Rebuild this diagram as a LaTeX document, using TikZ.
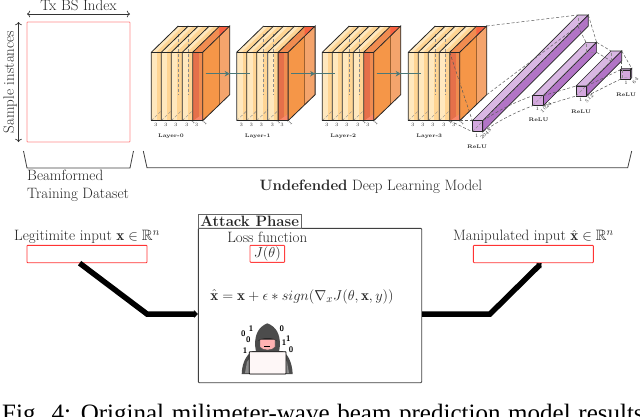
\documentclass[tikz,border=0pt]{standalone}
\usepackage{amsmath}
\usepackage{amssymb}
\usepackage{xcolor}
\usepackage{fontspec}
\newfontfamily\captionfont{Liberation Serif}
\usetikzlibrary{arrows.meta}
\definecolor{slabA}{HTML}{FFE8BE}
\definecolor{slabB}{HTML}{FFD594}
\definecolor{lastA}{HTML}{E5704A}
\definecolor{lastB}{HTML}{F08C50}
\definecolor{sideA}{HTML}{F59648}
\definecolor{sideB}{HTML}{F4A46C}
\definecolor{barA}{HTML}{D4A8DE}
\definecolor{barB}{HTML}{B274C6}
\definecolor{barC}{HTML}{D9B7E3}
\definecolor{arrowteal}{HTML}{4A7878}
\tikzset{
	txt/.style={text=black!85, inner sep=0pt, font=\fontsize{15}{18}\selectfont},
	lyrtxt/.style={text=black!85, inner sep=0pt, font=\fontsize{5.2}{6}\selectfont\bfseries},
	dimtxt/.style={text=black!80, inner sep=0pt, font=\fontsize{5}{6}\selectfont},
	bittxt/.style={text=black, inner sep=0pt, font=\fontsize{8}{9}\selectfont\sffamily\bfseries},
	redbox/.style={draw=red!75, line width=0.9pt, rounded corners=0.8pt, inner sep=0pt},
	edge/.style={draw=black!85, line width=0.8pt},
	hidden/.style={draw=black!45, line width=0.4pt, densely dashed},
	link/.style={draw=black!65, line width=0.5pt, densely dashed},
	layerlink/.style={draw=arrowteal, line width=1.2pt},
	bracket/.style={draw=black!75, line width=0.8pt},
	flow/.style={draw=black, line width=5.5pt}
}
\begin{document}
\begin{tikzpicture}[x=1pt, y=-1pt]
	\clip (0,0) rectangle (640,416);
	% training data
	\node[redbox, draw=red!45, minimum width=103pt, minimum height=120pt] (databox) at (78.5,82) {};
	\node[txt] (txindex) at (78.5,5.8) {Tx BS Index};
	\node[txt, rotate=90] (samples) at (10,82) {Sample instances};
	\coordinate (dataleft) at (27,14);
	\coordinate (dataright) at (130,14);
	\coordinate (datatop) at (18.5,22);
	\coordinate (databot) at (18.5,142);
	\draw[black!80, line width=0.7pt, <->] (dataleft) -- (dataright);
	\draw[black!80, line width=0.7pt, <->] (datatop) -- (databot);
	\draw[bracket] (23.5,151) -- (27,168) -- (130,168) -- (133.5,151);
	\node[txt, anchor=base west] (beam) at (27,180.5) {Beamformed};
	\node[txt, anchor=base west] (train) at (27,198) {Training Dataset};
	% conv layers
	\foreach \n/\X in {0/151.3,1/236.7,2/322.3,3/408.3} {
		\foreach \s in {0,10,20,31} {
			\fill[slabA] (\X+\s,52.3) -- (\X+\s+27,26) -- (\X+\s+37.4,26) -- (\X+\s+10.4,52.3) -- cycle;
			\fill[slabB] (\X+\s+5,52.3) -- (\X+\s+32,26) -- (\X+\s+37.4,26) -- (\X+\s+10.4,52.3) -- cycle;
			\fill[slabA] (\X+\s,52.3) rectangle (\X+\s+10.4,120.7);
			\fill[slabB] (\X+\s+6,52.3) rectangle (\X+\s+10.4,120.7);
			\draw[hidden] (\X+\s,120.7) -- (\X+\s+26,95);
			\node[dimtxt] at (\X+\s+4.5,125) {3};
		}
		\draw[hidden] (\X+26.4,34) -- (\X+26.4,95);
		\draw[hidden] (\X+36.4,34) -- (\X+36.4,95);
		% last slab
		\fill[sideA] (\X+51.4,52.3) -- (\X+78.4,26) -- (\X+78.4,94.7) -- (\X+51.4,120.7) -- cycle;
		\fill[sideB] (\X+68,36) -- (\X+78.4,26) -- (\X+78.4,94.7) -- (\X+68,104.6) -- cycle;
		\fill[lastB] (\X+41.4,52.3) -- (\X+68.4,26) -- (\X+78.4,26) -- (\X+51.4,52.3) -- cycle;
		\fill[red!40!sideB] (\X+68,26) -- (\X+78.4,26) -- (\X+68,36) -- cycle;
		\fill[lastB] (\X+41.4,52.3) rectangle (\X+51.4,120.7);
		\fill[lastA] (\X+41.4,52.3) rectangle (\X+47.5,120.7);
		\fill[red!35!sideB!80!white] (\X+42,120.7) -- (\X+51.4,120.7) -- (\X+51.4,114) -- cycle;
		\draw[black!35!sideA, line width=0.5pt] (\X+68,36) -- (\X+68,104.6);
		% edges
		\foreach \s in {0,10,20,31,41.4} {
			\draw[edge] (\X+\s,120.7) -- (\X+\s,52.3) -- (\X+\s+27,26);
		}
		\draw[edge] (\X,52.3) -- (\X+51.4,52.3);
		\draw[edge] (\X,120.7) -- (\X+51.4,120.7);
		\draw[edge] (\X+27,26) -- (\X+78.4,26);
		\draw[edge] (\X+51.4,52.3) -- (\X+78.4,26) -- (\X+78.4,94.7) -- (\X+51.4,120.7) -- cycle;
		\node[dimtxt] at (\X+45.4,125) {3};
		\node[dimtxt, rotate=45] at (\X+41.6,122.5) {1};
		\node[dimtxt, rotate=45] at (\X+53.7,123.5) {1};
		\coordinate (out\n) at (\X+54.4,73.7);
		\coordinate (tip\n) at (\X+78.4,73.7);
		\coordinate (backtop\n) at (\X+78.4,26);
		\coordinate (backbot\n) at (\X+78.4,94.7);
		\coordinate (frontleft\n) at (\X+41.4,52.3);
		\coordinate (botleft\n) at (\X+41.4,120.7);
		\coordinate (botright\n) at (\X+51.4,120.7);
	}
	\node[lyrtxt] (layer0) at (171,136.5) {Layer-0};
	\node[lyrtxt] (layer1) at (257.7,136.5) {Layer-1};
	\node[lyrtxt] (layer2) at (343.3,136.5) {Layer-2};
	\node[lyrtxt] (layer3) at (429.3,136.5) {Layer-3};
	\coordinate (in1) at (250,73.7);
	\coordinate (in2) at (335.4,73.7);
	\coordinate (in3) at (421.4,73.7);
	\foreach \a/\b in {0/1,1/2,2/3} {
		\draw[layerlink] (out\a) -- (in\b);
		\draw[layerlink, -{Stealth[length=5pt,width=5.5pt]}] (out\a) -- (tip\a);
	}
	% dense layers
	\foreach \n/\fx/\fy/\w/\h/\bx/\by in {a/472.3/120.7/10.5/11/577.8/15, b/532.7/95.7/10.6/10/586/42.3, c/576/86/10.7/10/611/51, d/620/70/10/9.4/621.7/68.3} {
		\coordinate (\n-ftl) at (\fx,\fy);
		\coordinate (\n-ftr) at (\fx+\w,\fy);
		\coordinate (\n-fbr) at (\fx+\w,\fy+\h);
		\coordinate (\n-fbl) at (\fx,\fy+\h);
		\coordinate (\n-btl) at (\bx,\by);
		\coordinate (\n-btr) at (\bx+\w,\by);
		\coordinate (\n-bbr) at (\bx+\w,\by+\h);
		\coordinate (\n-bbl) at (\bx,\by+\h);
		\filldraw[fill=barC, draw=black!85, line width=0.6pt] (\n-ftl) -- (\n-btl) -- (\n-btr) -- (\n-ftr) -- cycle;
		\filldraw[fill=barB, draw=black!85, line width=0.7pt] (\n-ftr) -- (\n-btr) -- (\n-bbr) -- (\n-fbr) -- cycle;
		\filldraw[fill=barA, draw=black!85, line width=0.7pt] (\n-ftl) rectangle (\n-fbr);
		\draw[hidden] (\n-fbl) -- (\n-bbl) -- (\n-bbr);
		\draw[hidden] (\n-bbl) -- (\n-btl);
	}
	\draw[link] (backtop3) -- (a-btl);
	\draw[link] (frontleft3) -- (a-ftl);
	\draw[link] (botleft3) -- (a-fbl);
	\draw[link] (botright3) -- (a-ftl);
	\draw[link] (backbot3) -- (a-bbl);
	\draw[link] (a-fbr) to[bend left=6] (b-fbl);
	\draw[link] (a-ftr) to[bend left=6] (b-ftl);
	\draw[link] (a-btr) -- (b-btr);
	\draw[link] (a-bbl) -- (b-btl);
	\draw[link] (b-fbr) -- (c-fbl);
	\draw[link] (b-ftr) -- (c-ftl);
	\draw[link] (b-btr) -- (c-btl);
	\draw[link] (b-bbr) -- (c-bbl);
	\draw[link] (c-fbr) -- (d-fbl);
	\draw[link] (c-ftr) -- (d-ftl);
	\draw[link] (c-btr) -- (d-btr);
	\draw[link] (c-bbr) -- (d-btl);
	\node[dimtxt] (dima) at (476.7,136) {1};
	\node[dimtxt, rotate=45] (sizea) at (485.7,134) {2048};
	\node[dimtxt] (dimb) at (537.3,109.3) {1};
	\node[dimtxt, rotate=45] (sizeb) at (546,107.3) {1024};
	\node[dimtxt] (dimc) at (580.7,100) {1};
	\node[dimtxt, rotate=45] (sizec) at (589.3,98.3) {512};
	\node[dimtxt] (dimd) at (626,83.3) {1};
	\node[dimtxt, rotate=45] (sized) at (635.3,80.7) {64};
	\node[lyrtxt] (relua) at (477,146.7) {ReLU};
	\node[lyrtxt] (relub) at (538.5,120) {ReLU};
	\node[lyrtxt] (reluc) at (581,111.7) {ReLU};
	\node[lyrtxt] (relud) at (626,94.3) {ReLU};
	\draw[bracket] (143.3,151) -- (147,167.7) -- (627.7,167.7) -- (631.7,151);
	\node[txt, anchor=base] (modeltxt) at (370.8,190) {\textbf{Undefended} Deep Learning Model};
	% attack phase
	\node[draw=black!75, line width=0.9pt, rounded corners=0.8pt, minimum width=223.4pt, minimum height=154.4pt, inner sep=0pt] (attackbox) at (310,305.5) {};
	\node[draw=black!60, line width=0.8pt, minimum width=102.7pt, minimum height=14pt, inner sep=0pt] (titlebox) at (249.65,221.3) {};
	\node[txt, font=\fontsize{15}{18}\selectfont\bfseries] (title) at (titlebox) {Attack Phase};
	\node[txt] (losstxt) at (267.3,237.3) {Loss function};
	\node[redbox, minimum width=34.7pt, minimum height=17pt] (lossbox) at (267.3,253.8) {};
	\node[txt] (jtxt) at (lossbox) {$J(\theta)$};
	\node[txt] (formula) at (302,296.7) {$\hat{\mathbf{x}} = \mathbf{x} + \epsilon * sign(\nabla_x J(\theta, \mathbf{x}, y))$};
	\node[txt] (intxt) at (87,236.7) {Legitimite input $\mathbf{x} \in \mathbb{R}^n$};
	\node[redbox, draw=red!80, minimum width=120pt, minimum height=17.4pt] (inbox) at (87,254) {};
	\node[txt] (outtxt) at (533.5,236.7) {Manipulated input $\hat{\mathbf{x}} \in \mathbb{R}^n$};
	\node[redbox, draw=red!80, minimum width=120pt, minimum height=17.4pt] (outbox) at (533.3,254) {};
	\coordinate (inbend) at (147,314);
	\coordinate (outbend) at (490,314);
	\draw[flow, -{Stealth[length=4pt,width=8pt]}] (inbox.-129) -- (inbend) -- (inbend -| attackbox.west);
	\draw[flow, -{Stealth[length=4pt,width=7pt]}] (outbend -| attackbox.east) -- (outbend) -- (outbox.-48);
	% hacker
	\fill[black!70] (241.7,374) .. controls (242,362) and (247,354) .. (253,351) -- (282,351) .. controls (288,354) and (292,362) .. (292.7,374) -- cycle;
	\fill[black!70] (267.3,323.3) .. controls (258,327) and (255,335) .. (255,345) -- (256,352) -- (279,352) -- (280,345) .. controls (280,335) and (277,327) .. (267.3,323.3);
	\fill[black!45] (245,373) -- (247,362) -- (250,358) -- (250,373) -- cycle;
	\fill[black!45] (289,373) -- (287,362) -- (285,358) -- (285,373) -- cycle;
	\filldraw[fill=red!30!white, draw=black!70, line width=0.4pt] (260,339) -- (275,339) -- (275,347) .. controls (273,351) and (262,351) .. (260,347) -- cycle;
	\fill[black!85] (258,341) .. controls (261,337) and (274,337) .. (277,341) -- (274,339.5) -- (261,339.5) -- cycle;
	\draw[black, line width=0.6pt] (264,346.5) -- (270,346.5);
	\filldraw[fill=black!10!red!3!white, draw=black, line width=0.8pt, rounded corners=0.6pt] (249.3,351.7) rectangle (286,374);
	\node[bittxt] (bita) at (243.3,333.3) {0};
	\node[bittxt] (bitb) at (251,328.3) {1};
	\node[bittxt] (bitc) at (248.3,340) {0};
	\node[bittxt] (bitd) at (245,351) {1};
	\node[bittxt] (bite) at (281.7,328.3) {0};
	\node[bittxt] (bitf) at (288.3,338.3) {1};
	\node[bittxt] (bitg) at (284,342.7) {1};
	\node[bittxt] (bith) at (291,350) {0};
	% caption
	\node[anchor=base west, inner sep=0pt, font=\captionfont\fontsize{25}{30}\selectfont] (captxt) at (2,421.5) {\spaceskip=7.7pt Fig. 4: Original milimeter-wave beam prediction model results};
\end{tikzpicture}
\end{document}
